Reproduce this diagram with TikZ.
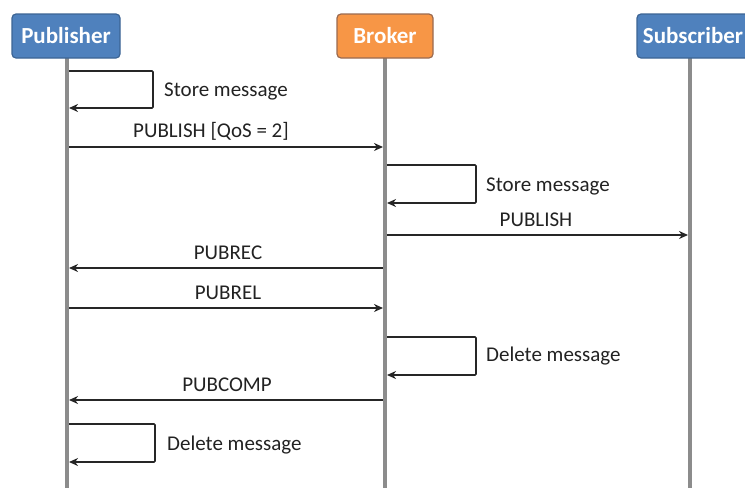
\documentclass[tikz,border=0pt]{standalone}
\usepackage{fontspec}
\setmainfont{Carlito}
\usetikzlibrary{arrows.meta}
\definecolor{pubblue}{HTML}{4F81BD}
\definecolor{pubborder}{HTML}{3C6494}
\definecolor{brkorange}{HTML}{F79646}
\definecolor{brkborder}{HTML}{9A6A50}
\definecolor{lifegray}{HTML}{8C8C8C}
\definecolor{txtgray}{HTML}{222222}
\tikzset{
  actor/.style={draw=#1, line width=1.2pt, rounded corners=4pt, minimum height=44pt, inner xsep=4pt,
    text=white, font=\fontsize{23}{26}\selectfont\bfseries, anchor=center},
  lifeline/.style={draw=lifegray, line width=4pt},
  msg/.style={draw=black!85, line width=1.6pt, -{Stealth[length=9pt,width=8pt]}},
  lbl/.style={text=txtgray, font=\fontsize{21}{24}\selectfont, inner sep=0pt},
}
\begin{document}
\begin{tikzpicture}[x=1pt,y=-1pt]
\useasboundingbox (0,0) rectangle (745,488);
% lifeline ends
\coordinate (pb) at (67,488);
\coordinate (bb) at (385,488);
\coordinate (sb) at (690,488);
\draw[lifeline] (67,58) -- (pb);
\draw[lifeline] (385,58) -- (bb);
\draw[lifeline] (690,58) -- (sb);
\node[actor=pubborder, fill=pubblue, minimum width=108pt] (pub) at (66,36) {Publisher};
\node[actor=brkborder, fill=brkorange, minimum width=96pt] (brk) at (385,36) {Broker};
\node[actor=pubborder, fill=pubblue, minimum width=112pt] (sub) at (693,36) {Subscriber};
% publisher self loop: store
\coordinate (p1a) at (69,71);
\coordinate (p1b) at (69,108);
\draw[msg, rounded corners=1pt] (p1a) -- (153,71) -- (153,108) -- (p1b);
\node[lbl, anchor=west] (l1) at (164,91) {Store message};
% publish qos 2
\coordinate (m1a) at (69,147);
\coordinate (m1b) at (383,147);
\draw[msg] (m1a) -- (m1b);
\node[lbl] (l2) at (211,131) {PUBLISH [QoS = 2]};
% broker store
\coordinate (b1a) at (387,165);
\coordinate (b1b) at (387,203);
\draw[msg, rounded corners=1pt] (b1a) -- (476,165) -- (476,203) -- (b1b);
\node[lbl, anchor=west] (l3) at (486,186) {Store message};
% publish to subscriber
\coordinate (m2a) at (387,235);
\coordinate (m2b) at (688,235);
\draw[msg] (m2a) -- (m2b);
\node[lbl] (l4) at (536,220) {PUBLISH};
% pubrec
\coordinate (m3a) at (383,268);
\coordinate (m3b) at (69,268);
\draw[msg] (m3a) -- (m3b);
\node[lbl] (l5) at (228,253) {PUBREC};
% pubrel
\coordinate (m4a) at (69,308);
\coordinate (m4b) at (383,308);
\draw[msg] (m4a) -- (m4b);
\node[lbl] (l6) at (228,293) {PUBREL};
% broker delete
\coordinate (b2a) at (387,337);
\coordinate (b2b) at (387,375);
\draw[msg, rounded corners=1pt] (b2a) -- (476,337) -- (476,375) -- (b2b);
\node[lbl, anchor=west] (l7) at (486,356) {Delete message};
% pubcomp
\coordinate (m5a) at (383,400);
\coordinate (m5b) at (69,400);
\draw[msg] (m5a) -- (m5b);
\node[lbl] (l8) at (227,385) {PUBCOMP};
% publisher delete
\coordinate (p2a) at (69,424);
\coordinate (p2b) at (69,462);
\draw[msg, rounded corners=1pt] (p2a) -- (155,424) -- (155,462) -- (p2b);
\node[lbl, anchor=west] (l9) at (167,445) {Delete message};
\end{tikzpicture}
\end{document}
